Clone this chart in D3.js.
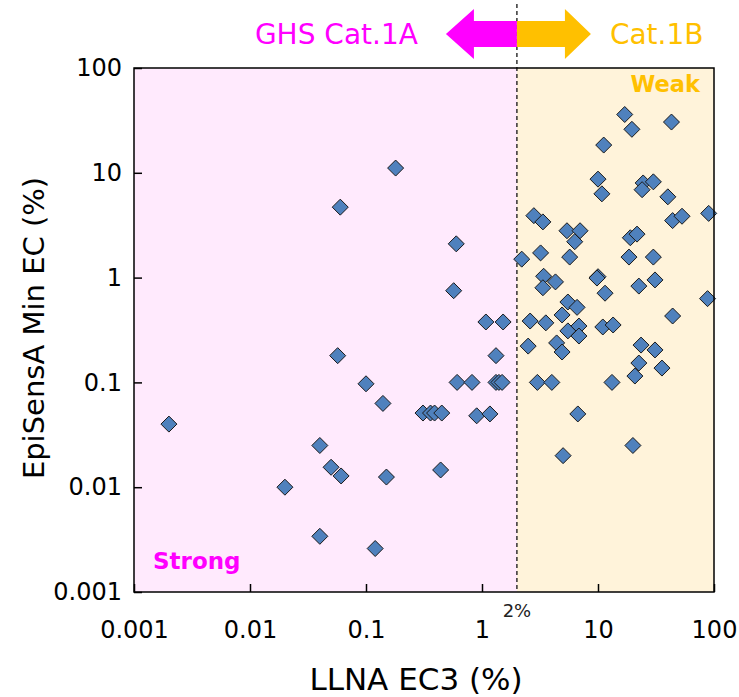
<!DOCTYPE html>
<html>
<head>
<meta charset="utf-8">
<script src="https://cdn.jsdelivr.net/npm/d3@7"></script>
<style>
body{margin:0;background:#fff;}
text{font-family:"DejaVu Sans",Verdana,sans-serif;}
</style>
</head>
<body>
<script>
// LLNA EC3 (%) and EpiSensA Min EC (%), paired by index
var llna = [
    0.002, 0.18, 0.06, 0.6, 0.57, 0.057, 0.1, 0.14, 0.04, 0.05,
    0.061, 0.15, 0.02, 0.04, 0.12, 0.44, 0.31, 0.36, 0.39, 0.45,
    0.9, 1.17, 0.61, 0.82, 1.32, 1.4, 1.49, 1.32, 1.08, 1.52,
    17, 19.6, 43, 11.2, 10, 10.8, 24.5, 24, 30, 40,
    90, 2.8, 3.35, 44, 53, 5.4, 7.0, 6.3, 19, 21.7,
    2.2, 3.2, 5.7, 18.5, 30, 3.4, 4.3, 3.35, 10, 9.8,
    11.5, 22.5, 31, 88, 5.5, 6.6, 4.9, 44, 2.6, 3.55,
    5.5, 6.85, 6.85, 11, 13.5, 2.5, 4.4, 4.9, 23.5, 31,
    22.5, 20.8, 35.6, 3.0, 4.0, 13.2, 6.7, 20, 5.0
];
var episensa = [
    0.04, 11.1, 4.7, 2.1, 0.75, 0.18, 0.097, 0.063, 0.025, 0.0155,
    0.0128, 0.0125, 0.01, 0.0034, 0.0026, 0.0146, 0.051, 0.051, 0.051, 0.051,
    0.048, 0.05, 0.1, 0.1, 0.1, 0.1, 0.1, 0.18, 0.377, 0.377,
    36, 26, 30.5, 18.4, 8.7, 6.3, 8.0, 6.9, 8.2, 5.9,
    4.1, 3.9, 3.4, 3.5, 3.85, 2.8, 2.8, 2.2, 2.4, 2.6,
    1.5, 1.72, 1.57, 1.57, 1.57, 1.03, 0.91, 0.8, 1.02, 0.99,
    0.71, 0.83, 0.95, 0.63, 0.585, 0.52, 0.44, 0.43, 0.385, 0.37,
    0.31, 0.345, 0.277, 0.338, 0.353, 0.222, 0.238, 0.195, 0.227, 0.204,
    0.153, 0.115, 0.137, 0.1, 0.1, 0.1, 0.05, 0.025, 0.02
];
var tickValues = [0.001, 0.01, 0.1, 1, 10, 100];
var tickLabels = ["0.001", "0.01", "0.1", "1", "10", "100"];
var threshold = 2;

var width = 739;
var height = 697;
var marge = {top:68, right:25, bottom:105, left:134};
var w = width - marge.left - marge.right;
var h = height - marge.top - marge.bottom;

var svg = d3.select("body")
    .append("svg")
    .attr("width", width)
    .attr("height", height);

var g = svg.append("g")
    .attr("transform", "translate(" + marge.left + "," + marge.top + ")");

var x = d3.scaleLog().domain([0.001, 100]).range([0, w]);
var y = d3.scaleLog().domain([0.001, 100]).range([h, 0]);
var xt = x(threshold);

// background zones
g.append("rect")
    .attr("x", 0).attr("y", 0)
    .attr("width", xt).attr("height", h)
    .attr("fill", "#FFEAFD");
g.append("rect")
    .attr("x", xt).attr("y", 0)
    .attr("width", w - xt).attr("height", h)
    .attr("fill", "#FFF3DA");

// dashed 2% line, runs up above the plot
g.append("line")
    .attr("x1", xt).attr("x2", xt)
    .attr("y1", -marge.top + 4).attr("y2", h)
    .attr("stroke", "#000")
    .attr("stroke-width", 1.2)
    .attr("stroke-dasharray", "4,3");

// arrows
var ay = 34 - marge.top;
g.append("path")
    .attr("d", "M" + xt + "," + (ay - 13) + "H" + (xt - 43) + "V" + (ay - 25) +
        "L" + (xt - 71) + "," + ay + "L" + (xt - 43) + "," + (ay + 25) +
        "V" + (ay + 13) + "H" + xt + "Z")
    .attr("fill", "#FF00FF");
g.append("path")
    .attr("d", "M" + xt + "," + (ay - 13) + "H" + (xt + 48) + "V" + (ay - 25) +
        "L" + (xt + 74) + "," + ay + "L" + (xt + 48) + "," + (ay + 25) +
        "V" + (ay + 13) + "H" + xt + "Z")
    .attr("fill", "#FFC000");

g.append("text")
    .attr("x", xt - 99).attr("y", ay)
    .attr("dy", "0.35em")
    .attr("text-anchor", "end")
    .attr("font-size", 28)
    .attr("fill", "#FF00FF")
    .text("GHS Cat.1A");
g.append("text")
    .attr("x", xt + 93).attr("y", ay)
    .attr("dy", "0.35em")
    .attr("font-size", 28)
    .attr("fill", "#FFC000")
    .text("Cat.1B");

g.append("text")
    .attr("x", w - 14).attr("y", 24)
    .attr("text-anchor", "end")
    .attr("font-size", 22.5)
    .attr("font-weight", "bold")
    .attr("fill", "#FFC000")
    .text("Weak");
g.append("text")
    .attr("x", 19).attr("y", h - 23)
    .attr("font-size", 23)
    .attr("font-weight", "bold")
    .attr("fill", "#FF00FF")
    .text("Strong");

// points
var points = llna.map(function(d, i){ return {x:d, y:episensa[i]}; });
g.append("g")
    .selectAll("path")
    .data(points)
    .enter()
    .append("path")
    .attr("d", "M0,-8L8,0L0,8L-8,0Z")
    .attr("transform", function(d){
        return "translate(" + x(d.x) + "," + y(d.y) + ")";
    })
    .attr("fill", "#4F81BD")
    .attr("stroke", "#1a1a1a")
    .attr("stroke-width", 1);

// axes
var xAxis = g.append("g")
    .attr("transform", "translate(0," + h + ")")
    .call(d3.axisBottom(x)
        .tickValues(tickValues)
        .tickFormat(function(d, i){ return tickLabels[i]; })
        .tickSize(-8)
        .tickPadding(29));
var yAxis = g.append("g")
    .call(d3.axisLeft(y)
        .tickValues(tickValues)
        .tickFormat(function(d, i){ return tickLabels[i]; })
        .tickSize(-8)
        .tickPadding(12));
[xAxis, yAxis].forEach(function(a){
    a.select(".domain").remove();
    a.selectAll(".tick line").attr("stroke", "#000").attr("stroke-width", 1.5);
    a.selectAll(".tick text")
        .attr("font-family", "'DejaVu Sans',Verdana,sans-serif")
        .attr("font-size", 24)
        .attr("fill", "#000");
});

g.append("rect")
    .attr("x", 0).attr("y", 0)
    .attr("width", w).attr("height", h)
    .attr("fill", "none")
    .attr("stroke", "#000")
    .attr("stroke-width", 1.5);

g.append("text")
    .attr("x", xt).attr("y", h + 25)
    .attr("text-anchor", "middle")
    .attr("font-family", "'Liberation Sans',Arial,sans-serif")
    .attr("font-size", 18)
    .attr("fill", "#222")
    .text("2%");

// axis titles
g.append("text")
    .attr("x", w / 2 - 8).attr("y", h + 98)
    .attr("text-anchor", "middle")
    .attr("font-family", "'Liberation Sans',Arial,sans-serif")
    .attr("font-size", 31)
    .attr("fill", "#000")
    .text("LLNA EC3 (%)");
g.append("text")
    .attr("transform", "translate(" + (-marge.left + 44) + "," + (h / 2 - 2) + ") rotate(-90)")
    .attr("text-anchor", "middle")
    .attr("font-size", 29)
    .attr("fill", "#000")
    .text("EpiSensA Min EC (%)");
</script>
</body>
</html>
